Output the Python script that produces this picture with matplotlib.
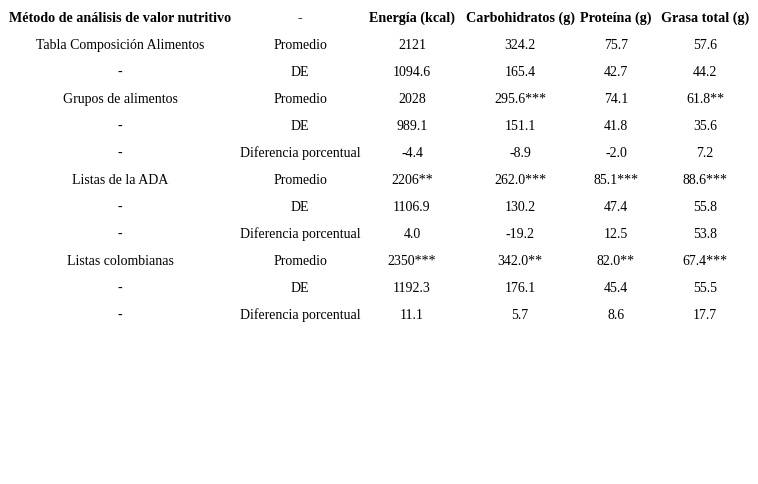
import matplotlib
matplotlib.use("Agg")
import matplotlib.pyplot as plt

plt.rcParams["font.family"] = ["Liberation Serif", "DejaVu Serif"]

# ---- datos de la tabla ----
columnas = ["Método de análisis de valor nutritivo", "-", "Energía (kcal)",
            "Carbohidratos (g)", "Proteína (g)", "Grasa total (g)"]
metodo = ["Tabla Composición Alimentos", "-", "Grupos de alimentos", "-", "-",
          "Listas de la ADA", "-", "-", "Listas colombianas", "-", "-"]
medida = ["Promedio", "DE", "Promedio", "DE", "Diferencia porcentual",
          "Promedio", "DE", "Diferencia porcentual",
          "Promedio", "DE", "Diferencia porcentual"]
energia = ["2121", "1094.6", "2028", "989.1", "-4.4", "2206**", "1106.9", "4.0",
           "2350***", "1192.3", "11.1"]
carbohidratos = ["324.2", "165.4", "295.6***", "151.1", "-8.9", "262.0***", "130.2",
                 "-19.2", "342.0**", "176.1", "5.7"]
proteina = ["75.7", "42.7", "74.1", "41.8", "-2.0", "85.1***", "47.4", "12.5",
            "82.0**", "45.4", "8.6"]
grasa = ["57.6", "44.2", "61.8**", "35.6", "7.2", "88.6***", "55.8", "53.8",
         "67.4***", "55.5", "17.7"]

filas = list(zip(metodo, medida, energia, carbohidratos, proteina, grasa))

# posiciones de columnas (pixeles), y = linea base
col_x = [120, 300, 412, 520, 616, 705]
y0, dy = 22.2, 27

fig = plt.figure(figsize=(7.58, 4.84), dpi=100)
ax = fig.add_axes([0, 0, 1, 1])
ax.set_xlim(0, 758)
ax.set_ylim(484, 0)
ax.axis("off")

for x, txt in zip(col_x, columnas):
    ax.text(x, y0, txt, ha="center", va="baseline", fontsize=10.2, fontweight="bold")

for i, fila in enumerate(filas):
    y = y0 + dy * (i + 1)
    for x, txt in zip(col_x, fila):
        ax.text(x, y, txt, ha="center", va="baseline", fontsize=10)

fig.savefig("out.png", dpi=100)
